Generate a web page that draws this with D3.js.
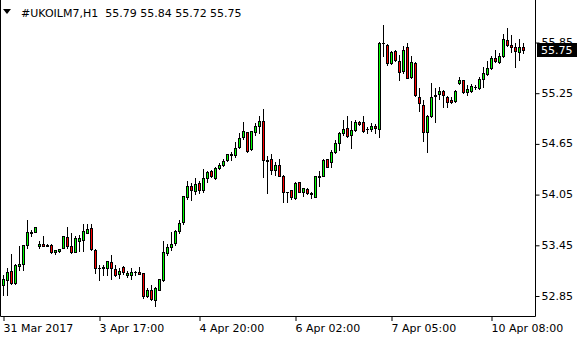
<!DOCTYPE html>
<html>
<head>
<meta charset="utf-8">
<script src="https://cdn.jsdelivr.net/npm/d3@7"></script>
<style>
  body { margin: 0; background: #fff; }
  svg { display: block; }
  text { font-family: "DejaVu Sans", sans-serif; font-size: 11px; }
</style>
</head>
<body>
<svg width="580" height="340"></svg>
<script>
// UKOILM7 H1, 131 bars
const opens = [
  52.97, 53.03, 53.14, 53.00, 53.20, 53.22, 53.45, 53.59, 53.60, 53.44,
  53.46, 53.45, 53.45, 53.37, 53.38, 53.41, 53.54, 53.44, 53.37, 53.50,
  53.51, 53.59, 53.65, 53.39, 53.18, 53.18, 53.18, 53.25, 53.16, 53.10,
  53.19, 53.09, 53.09, 53.13, 53.13, 53.12, 52.84, 52.92, 52.80, 52.92,
  53.03, 53.35, 53.42, 53.47, 53.61, 53.72, 54.02, 54.14, 54.09, 54.18,
  54.10, 54.24, 54.32, 54.24, 54.36, 54.39, 54.45, 54.53, 54.51, 54.61,
  54.72, 54.78, 54.58, 54.78, 54.86, 54.92, 54.45, 54.46, 54.33, 54.40,
  54.27, 54.07, 54.10, 54.00, 54.19, 54.07, 54.11, 54.05, 54.02, 54.25,
  54.26, 54.46, 54.43, 54.55, 54.66, 54.77, 54.83, 54.75, 54.81, 54.90,
  54.90, 54.82, 54.82, 54.86, 54.82, 55.84, 55.82, 55.60, 55.74, 55.63,
  55.51, 55.79, 55.43, 55.60, 55.20, 55.11, 54.78, 54.97, 55.21, 55.24,
  55.27, 55.20, 55.16, 55.15, 55.36, 55.40, 55.26, 55.27, 55.32, 55.30,
  55.41, 55.47, 55.54, 55.66, 55.61, 55.69, 55.87, 55.82, 55.79, 55.73,
  55.79
];
const highs = [
  53.09, 53.17, 53.34, 53.22, 53.44, 53.45, 53.74, 53.62, 53.66, 53.49,
  53.55, 53.46, 53.46, 53.39, 53.40, 53.55, 53.66, 53.59, 53.56, 53.57,
  53.70, 53.70, 53.70, 53.40, 53.21, 53.21, 53.26, 53.33, 53.21, 53.17,
  53.20, 53.14, 53.17, 53.14, 53.19, 53.12, 52.94, 52.97, 52.95, 53.05,
  53.50, 53.46, 53.60, 53.62, 53.74, 54.03, 54.21, 54.18, 54.24, 54.20,
  54.35, 54.32, 54.33, 54.37, 54.42, 54.47, 54.52, 54.55, 54.67, 54.77,
  54.90, 54.79, 54.80, 54.89, 54.97, 55.06, 54.50, 54.52, 54.43, 54.46,
  54.28, 54.08, 54.10, 54.19, 54.19, 54.12, 54.12, 54.08, 54.26, 54.32,
  54.46, 54.46, 54.57, 54.69, 54.79, 54.93, 54.97, 54.91, 54.93, 54.92,
  54.98, 54.85, 54.89, 54.88, 55.85, 56.05, 55.83, 55.74, 55.76, 55.70,
  55.80, 55.84, 55.68, 55.61, 55.30, 55.16, 54.99, 55.36, 55.30, 55.32,
  55.28, 55.21, 55.20, 55.28, 55.44, 55.40, 55.34, 55.35, 55.34, 55.44,
  55.56, 55.63, 55.68, 55.76, 55.72, 55.95, 56.01, 55.93, 55.84, 55.89,
  55.84
];
const lows = [
  52.86, 52.86, 52.99, 52.99, 53.15, 53.15, 53.41, 53.56, 53.60, 53.41,
  53.43, 53.43, 53.35, 53.34, 53.37, 53.41, 53.41, 53.35, 53.37, 53.38,
  53.38, 53.59, 53.39, 53.12, 53.03, 53.09, 53.09, 53.04, 53.08, 53.06,
  53.11, 53.07, 53.05, 53.09, 53.11, 52.82, 52.83, 52.80, 52.72, 52.92,
  53.02, 53.33, 53.39, 53.45, 53.59, 53.70, 53.99, 53.98, 54.05, 54.06,
  54.08, 54.19, 54.25, 54.23, 54.35, 54.38, 54.44, 54.45, 54.49, 54.60,
  54.70, 54.55, 54.57, 54.75, 54.77, 54.25, 54.06, 54.29, 54.28, 54.26,
  53.96, 53.96, 53.99, 53.99, 54.07, 54.03, 54.05, 54.00, 54.02, 54.14,
  54.26, 54.37, 54.37, 54.54, 54.57, 54.75, 54.73, 54.59, 54.80, 54.87,
  54.78, 54.77, 54.80, 54.77, 54.73, 55.68, 55.58, 55.59, 55.63, 55.40,
  55.48, 55.42, 55.42, 55.21, 55.03, 54.68, 54.55, 54.96, 54.90, 55.18,
  55.08, 55.08, 55.13, 55.14, 55.35, 55.25, 55.22, 55.26, 55.29, 55.29,
  55.32, 55.46, 55.53, 55.61, 55.60, 55.67, 55.80, 55.73, 55.56, 55.64,
  55.72
];
const closes = [
  53.05, 53.13, 53.00, 53.21, 53.22, 53.45, 53.60, 53.60, 53.66, 53.46,
  53.44, 53.43, 53.36, 53.39, 53.40, 53.55, 53.44, 53.37, 53.53, 53.53,
  53.61, 53.64, 53.40, 53.18, 53.18, 53.19, 53.26, 53.17, 53.09, 53.14,
  53.13, 53.12, 53.13, 53.13, 53.11, 52.85, 52.92, 52.81, 52.94, 53.05,
  53.36, 53.42, 53.46, 53.61, 53.71, 54.03, 54.15, 54.10, 54.17, 54.10,
  54.24, 54.31, 54.26, 54.36, 54.40, 54.44, 54.52, 54.51, 54.60, 54.71,
  54.80, 54.56, 54.80, 54.86, 54.92, 54.45, 54.44, 54.34, 54.40, 54.27,
  54.07, 54.07, 54.02, 54.18, 54.07, 54.12, 54.06, 54.06, 54.26, 54.26,
  54.45, 54.37, 54.55, 54.66, 54.77, 54.82, 54.74, 54.81, 54.90, 54.88,
  54.80, 54.82, 54.86, 54.83, 55.84, 55.84, 55.60, 55.73, 55.64, 55.50,
  55.76, 55.42, 55.61, 55.22, 55.13, 54.79, 54.98, 55.20, 55.22, 55.27,
  55.22, 55.14, 55.14, 55.27, 55.40, 55.26, 55.29, 55.33, 55.32, 55.41,
  55.48, 55.54, 55.66, 55.62, 55.68, 55.88, 55.82, 55.79, 55.74, 55.79,
  55.75
];

const priceTicks = [52.85, 53.45, 54.05, 54.65, 55.25, 55.85];
const timeIdx = [0, 24, 49, 73, 97, 122];
const timeLabels = ["31 Mar 2017", "3 Apr 17:00", "4 Apr 20:00", "6 Apr 02:00", "7 Apr 05:00", "10 Apr 08:00"];
const symbol = "#UKOILM7,H1";

const bullFill = "#00ff00";
const bearFill = "#ff0000";

const plotRight = 535, plotBottom = 316;
const svg = d3.select("svg");

const x = d3.scaleLinear().domain([0, opens.length - 1]).range([3, 3 + 4 * (opens.length - 1)]);
const y = d3.scaleLinear().domain([52.85, 55.85]).range([295.5, 42]);
const py = v => Math.round(y(v));

const bars = opens.map((o, i) => ({ i, o, h: highs[i], l: lows[i], c: closes[i] }));

// frame
svg.append("path")
  .attr("d", `M0.5,0V${plotBottom + 0.5}H${plotRight + 0.5}V0`)
  .attr("fill", "none").attr("stroke", "#000");

// candles
const g = svg.append("g").attr("class", "candles");
const cg = g.selectAll("g").data(bars).enter().append("g");
cg.append("line")
  .attr("x1", d => Math.round(x(d.i)) + 0.5).attr("x2", d => Math.round(x(d.i)) + 0.5)
  .attr("y1", d => py(d.h)).attr("y2", d => py(d.l) + 1)
  .attr("stroke", "#000");
cg.each(function (d) {
  const cx = Math.round(x(d.i));
  const top = py(Math.max(d.o, d.c)), bot = py(Math.min(d.o, d.c));
  const sel = d3.select(this);
  if (bot - top < 1) {
    sel.append("line")
      .attr("x1", cx - 1).attr("x2", cx + 2)
      .attr("y1", top + 0.5).attr("y2", top + 0.5)
      .attr("stroke", "#000");
  } else {
    sel.append("rect")
      .attr("x", cx - 0.5).attr("width", 2)
      .attr("y", top + 0.5).attr("height", bot - top)
      .attr("fill", d.c >= d.o ? bullFill : bearFill)
      .attr("stroke", "#000");
  }
});

// price axis
const ya = svg.append("g")
  .attr("transform", `translate(${plotRight + 0.5},0)`)
  .call(d3.axisRight(y).tickValues(priceTicks).tickSize(4).tickPadding(2).tickFormat(d3.format(".2f")));
ya.select(".domain").remove();
ya.selectAll(".tick line").attr("transform", "translate(0,0.5)");
ya.selectAll("text").attr("font-family", "DejaVu Sans").attr("font-size", 11).attr("fill", "#000");

// time axis
const xa = svg.append("g")
  .attr("transform", `translate(0,${plotBottom})`)
  .call(d3.axisBottom(x).tickValues(timeIdx).tickSize(5).tickFormat((d, i) => timeLabels[i]));
xa.select(".domain").remove();
xa.selectAll(".tick line").attr("transform", "translate(0.5,0)");
xa.selectAll("text").attr("text-anchor", "start").attr("x", 0).attr("y", 8)
  .attr("font-family", "DejaVu Sans").attr("font-size", 11).attr("fill", "#000");

// current price marker
const last = closes[closes.length - 1];
svg.append("rect")
  .attr("x", plotRight + 2).attr("y", py(last) - 7)
  .attr("width", 40).attr("height", 14).attr("fill", "#000");
svg.append("text")
  .attr("x", plotRight + 6).attr("y", py(last)).attr("dy", "0.35em")
  .attr("fill", "#fff").text(d3.format(".2f")(last));

// header
svg.append("path").attr("d", "M3,9H11L7,14Z").attr("fill", "#000");
const ohlc = [opens, highs, lows, closes].map(a => a[a.length - 1].toFixed(2)).join(" ");
svg.append("text").attr("x", 21).attr("y", 16.5).attr("xml:space", "preserve")
  .text(symbol + "  " + ohlc);
</script>
</body>
</html>
